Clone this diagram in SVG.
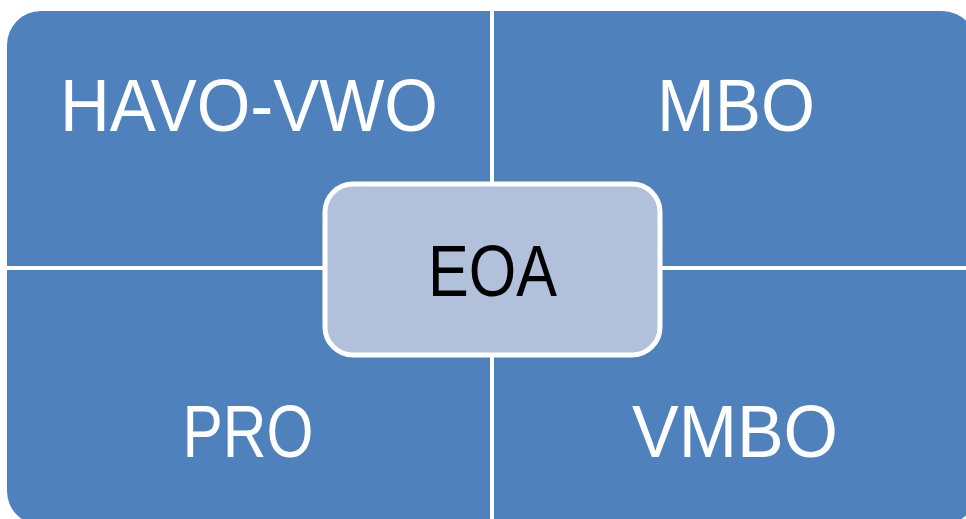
<svg xmlns="http://www.w3.org/2000/svg" width="966" height="519" viewBox="0 0 966 519">
<style>
.q{fill:#4F81BD}
.t{font-family:"Liberation Sans","Open Sans",Arial,sans-serif;font-size:74px;fill:#ffffff;text-anchor:middle}
.c{fill:#B1C1DC;stroke:#ffffff;stroke-width:5}
.ct{font-family:"Liberation Sans","Open Sans",Arial,sans-serif;font-size:72px;fill:#000000;text-anchor:middle}
</style>
<rect width="966" height="519" fill="#ffffff"/>
<g id="havo-vwo">
<path class="q" d="M7,45 A34,34 0 0 1 41,11 L490,11 L490,266 L7,266 Z"/>
<text class="t" x="249" y="131" textLength="378" lengthAdjust="spacingAndGlyphs">HAVO-VWO</text>
</g>
<g id="mbo">
<path class="q" d="M494,11 L942,11 A35,35 0 0 1 977,46 L977,266 L494,266 Z"/>
<text class="t" x="736" y="131" textLength="158" lengthAdjust="spacingAndGlyphs">MBO</text>
</g>
<g id="pro">
<path class="q" d="M7,270 L490,270 L490,525 L41,525 A34,34 0 0 1 7,491 Z"/>
<text class="t" x="248" y="457" textLength="131" lengthAdjust="spacingAndGlyphs">PRO</text>
</g>
<g id="vmbo">
<path class="q" d="M494,270 L977,270 L977,490 A35,35 0 0 1 942,525 L494,525 Z"/>
<text class="t" x="735" y="457" textLength="206" lengthAdjust="spacingAndGlyphs">VMBO</text>
</g>
<g id="connectors"></g>
<g id="eoa">
<rect class="c" x="325" y="184" width="335" height="171" rx="28" ry="28"/>
<text class="ct" x="492.5" y="296" textLength="129" lengthAdjust="spacingAndGlyphs">EOA</text>
</g>
</svg>
